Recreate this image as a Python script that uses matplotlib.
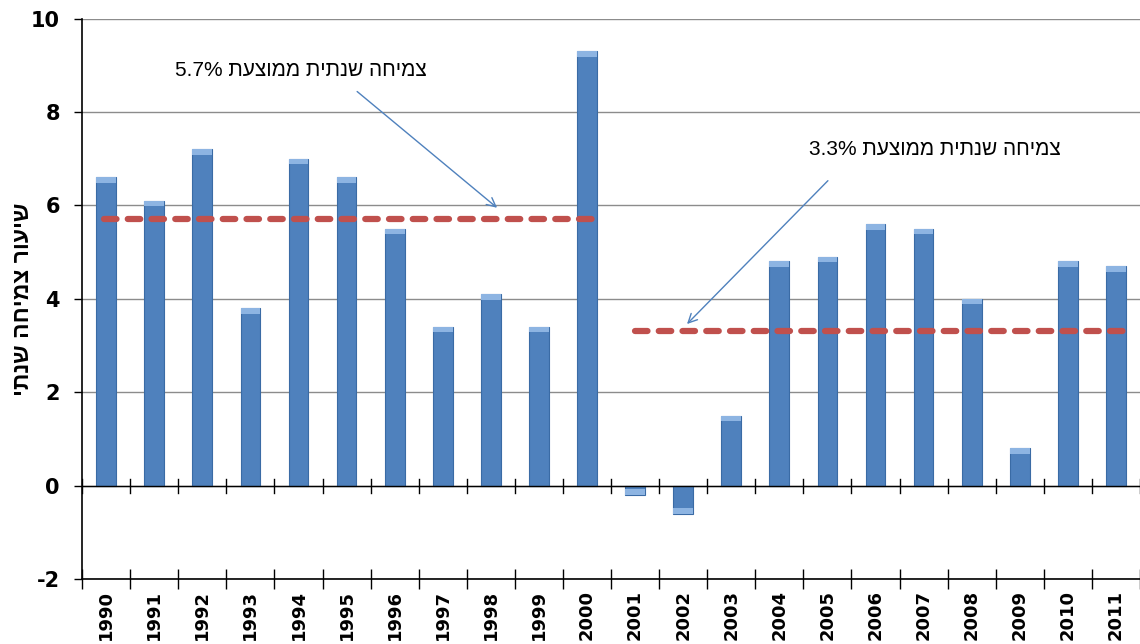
import numpy as np
import matplotlib
matplotlib.use("Agg")
import matplotlib.pyplot as plt
from matplotlib.ticker import FixedLocator, NullFormatter

plt.rcParams["axes.unicode_minus"] = False

# data
years = [str(y) for y in range(1990, 2012)]
growth = [6.6, 6.1, 7.2, 3.8, 7.0, 6.6, 5.5, 3.4, 4.1, 3.4, 9.3,
          -0.2, -0.6, 1.5, 4.8, 4.9, 5.6, 5.5, 4.0, 0.8, 4.8, 4.7]

avg1_x = [-0.05, 10.15]
avg1_y = [5.7, 5.7]
avg2_x = [11.0, 21.2]
avg2_y = [3.3, 3.3]

# Hebrew strings written in visual (left-to-right) order, matplotlib has no bidi
label1 = "5.7% " + "צמיחה שנתית ממוצעת"[::-1]
label2 = "3.3% " + "צמיחה שנתית ממוצעת"[::-1]
ylabel = "שיעור צמיחה שנתי"[::-1]

HEB = ["Liberation Sans", "DejaVu Sans"]

fig = plt.figure(figsize=(11.4, 6.44), dpi=100)
ax = fig.add_axes([0.072, 0.101, 0.928, 0.87])

x = np.arange(len(years))
ax.bar(x, growth, width=0.41, color="#4F81BD", edgecolor="#3A6BA5",
       linewidth=0.8, zorder=3)
# small lighter cap to mimic the bevel look
for xi, v in zip(x, growth):
    cap = 0.12 if v >= 0 else -0.12
    ax.bar(xi, cap, bottom=v - cap, width=0.41, color="#8DB4E2",
           linewidth=0, zorder=4)

for ax_x, ax_y in [(avg1_x, avg1_y), (avg2_x, avg2_y)]:
    ax.plot(ax_x, ax_y, color="#C0504D", lw=4.5, ls=(0, (2.0, 1.8)),
            dash_capstyle="round", zorder=5)

# callout texts and arrows
ax.text(4.05, 8.9, label1, fontsize=15, family=HEB, ha="center", va="center")
ax.text(17.23, 7.2, label2, fontsize=15, family=HEB, ha="center", va="center")
arrow = dict(arrowstyle="->", color="#4F81BD", lw=1, shrinkA=0, shrinkB=0,
             mutation_scale=16)
ax.annotate("", xy=(8.13, 5.95), xytext=(5.22, 8.44), arrowprops=arrow)
ax.annotate("", xy=(12.08, 3.46), xytext=(15.01, 6.53), arrowprops=arrow)

ax.set_xlim(-0.5, len(years) - 0.5)
ax.set_ylim(-2, 10)

# y axis
ax.set_yticks([-2, 0, 2, 4, 6, 8, 10])
ax.tick_params(axis="y", direction="out", length=6, width=1, labelsize=15, pad=10)
for t in ax.get_yticklabels():
    t.set_fontweight("bold")
ax.yaxis.grid(True, color="#8C8C8C", lw=1, zorder=0)
ax.set_ylabel(ylabel, fontsize=16.5, fontweight="bold", family=HEB)
ax.yaxis.set_label_coords(-0.045, 0.5)

# x axis: ticks at category boundaries, labels at centres
ax.xaxis.set_major_locator(FixedLocator(np.arange(-0.5, len(years), 1.0)))
ax.xaxis.set_major_formatter(NullFormatter())
ax.xaxis.set_minor_locator(FixedLocator(x))
ax.set_xticklabels(years, minor=True, rotation=90, fontsize=13, fontweight="bold")
ax.tick_params(axis="x", which="major", direction="inout", length=14, width=1)
ax.tick_params(axis="x", which="minor", length=0, pad=8)

# zero line with crossing ticks
ax.axhline(0, color="black", lw=1, zorder=6)
for b in np.arange(-0.5, len(years), 1.0):
    ax.plot([b, b], [-0.15, 0.15], color="black", lw=1, zorder=6)

ax.spines["top"].set_visible(False)
ax.spines["right"].set_visible(False)
ax.spines["left"].set_linewidth(1.2)
ax.spines["bottom"].set_linewidth(1.2)

fig.savefig("out.png", dpi=100)
